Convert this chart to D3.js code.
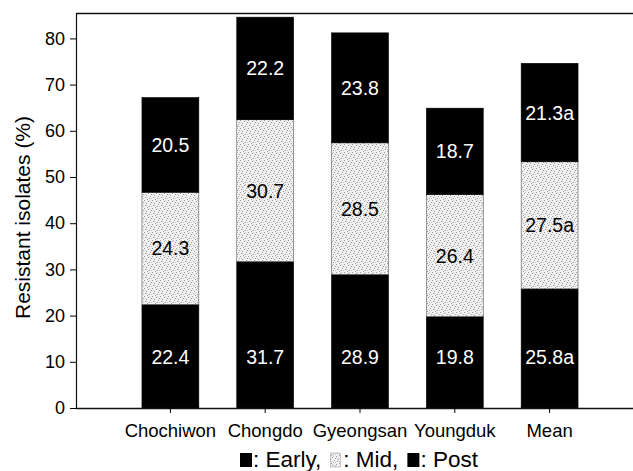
<!DOCTYPE html>
<html>
<head>
<meta charset="utf-8">
<script src="https://cdn.jsdelivr.net/npm/d3@7"></script>
<style>
  html, body { margin: 0; padding: 0; background: #fff; }
  svg { display: block; font-family: "Liberation Sans", Arial, Helvetica, sans-serif; }
</style>
</head>
<body>
<svg id="chart" width="633" height="471"></svg>
<script>
// Resistant isolates (%) by sampling period, per region
const categories = ["Chochiwon", "Chongdo", "Gyeongsan", "Youngduk", "Mean"];
const early = [22.4, 31.7, 28.9, 19.8, 25.8];
const mid   = [24.3, 30.7, 28.5, 26.4, 27.5];
const post  = [20.5, 22.2, 23.8, 18.7, 21.3];
const earlyLabels = ["22.4", "31.7", "28.9", "19.8", "25.8a"];
const midLabels   = ["24.3", "30.7", "28.5", "26.4", "27.5a"];
const postLabels  = ["20.5", "22.2", "23.8", "18.7", "21.3a"];
const yTicks = [0, 10, 20, 30, 40, 50, 60, 70, 80];
const seriesNames = ["Early", "Mid", "Post"];

const svg = d3.select("#chart");
const W = 633;
const plotLeft = 76, plotTop = 13, plotBottom = 408;

const x = d3.scaleBand()
  .domain(categories)
  .range([123, 597])
  .paddingInner(0.4)
  .paddingOuter(0.2);

const y = d3.scaleLinear().domain([0, 85.5]).range([plotBottom, plotTop]);

// stippled fill for the middle period
const defs = svg.append("defs");
const pat = defs.append("pattern")
  .attr("id", "stipple")
  .attr("patternUnits", "userSpaceOnUse")
  .attr("width", 8).attr("height", 8);
pat.append("rect").attr("width", 8).attr("height", 8).attr("fill", "#f1f1f1");
[[0,0],[4,1],[2,3],[6,4],[1,5],[5,6],[3,7],[7,2]].forEach(([a, b]) => {
  pat.append("rect").attr("x", a).attr("y", b).attr("width", 1).attr("height", 1).attr("fill", "#9a9a9a");
});
[[1,2],[5,0],[3,5],[7,6]].forEach(([a, b]) => {
  pat.append("rect").attr("x", a).attr("y", b).attr("width", 1).attr("height", 1).attr("fill", "#c8c8c8");
});

const rows = categories.map((c, i) => ({ cat: c, Early: early[i], Mid: mid[i], Post: post[i] }));
const stacked = d3.stack().keys(seriesNames)(rows);
const fills = { Early: "#000", Mid: "url(#stipple)", Post: "#000" };
const textFill = { Early: "#fff", Mid: "#000", Post: "#fff" };
const labelSets = { Early: earlyLabels, Mid: midLabels, Post: postLabels };

// plot frame
svg.append("line").attr("x1", plotLeft).attr("x2", W + 5).attr("y1", plotTop + 0.5).attr("y2", plotTop + 0.5)
  .attr("stroke", "#111").attr("stroke-width", 1.5);
svg.append("line").attr("x1", plotLeft + 0.5).attr("x2", plotLeft + 0.5).attr("y1", plotTop).attr("y2", plotBottom)
  .attr("stroke", "#111").attr("stroke-width", 1.2);

// bars
stacked.forEach(s => {
  svg.append("g").selectAll("rect").data(s).join("rect")
    .attr("x", d => x(d.data.cat))
    .attr("width", x.bandwidth())
    .attr("y", d => y(d[1]))
    .attr("height", d => y(d[0]) - y(d[1]))
    .attr("fill", fills[s.key])
    .attr("stroke", s.key === "Mid" ? "#555" : "#000")
    .attr("stroke-width", 0.6);
});

// segment value labels
const EARLY_LABEL_LEVEL = 11;
stacked.forEach(s => {
  svg.append("g").selectAll("text").data(s).join("text")
    .attr("x", d => x(d.data.cat) + x.bandwidth() / 2)
    .attr("y", d => s.key === "Early" ? y(EARLY_LABEL_LEVEL) : y((d[0] + d[1]) / 2))
    .attr("dy", "0.36em")
    .attr("text-anchor", "middle")
    .attr("font-size", 19.5)
    .attr("fill", textFill[s.key])
    .text((d, j) => labelSets[s.key][j]);
});

// y axis
const yAxis = d3.axisLeft(y).tickValues(yTicks).tickSize(6).tickPadding(5).tickSizeOuter(0);
const gy = svg.append("g").attr("transform", `translate(${plotLeft},0)`).call(yAxis);
gy.select(".domain").remove();
gy.selectAll("text").attr("font-size", 18).attr("fill", "#000").attr("font-family", "Liberation Sans, Arial, sans-serif");
gy.selectAll("line").attr("stroke", "#000").attr("stroke-width", 1);

// x axis
const xAxis = d3.axisBottom(x).tickSize(5).tickPadding(11).tickSizeOuter(0);
const gx = svg.append("g").attr("transform", `translate(0,${plotBottom})`).call(xAxis);
gx.select(".domain").attr("d", `M${plotLeft},0.5H${W + 5}`).attr("stroke", "#111").attr("stroke-width", 1.5);
gx.selectAll(".tick line").attr("stroke", "#000");
gx.selectAll("text").attr("font-size", 18.5).attr("fill", "#000").attr("font-family", "Liberation Sans, Arial, sans-serif");

// y title
svg.append("text")
  .attr("transform", `translate(30,${(plotTop + plotBottom) / 2 + 7}) rotate(-90)`)
  .attr("text-anchor", "middle")
  .attr("font-size", 21)
  .text("Resistant isolates (%)");

// legend: swatch followed by ": name" for each period
const legendItems = [
  { name: seriesNames[0], fill: fills.Early, sep: "," },
  { name: seriesNames[1], fill: fills.Mid, sep: "," },
  { name: seriesNames[2], fill: fills.Post, sep: "" }
];
let lx = 240;
legendItems.forEach((it, k) => {
  svg.append("rect").attr("x", lx).attr("y", 453).attr("width", k === 1 ? 10 : 12).attr("height", 14)
    .attr("fill", it.fill).attr("stroke", k === 1 ? "#999" : "none").attr("stroke-width", 0.5);
  const t = svg.append("text").attr("x", lx + 13).attr("y", 467).attr("font-size", 22.5)
    .style("white-space", "pre")
    .text(": " + it.name + it.sep);
  lx += 13 + t.node().getComputedTextLength() + 9;
});
</script>
</body>
</html>
